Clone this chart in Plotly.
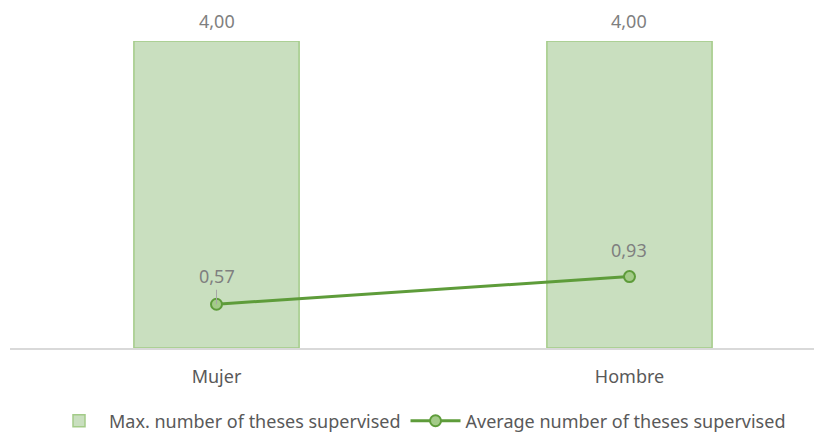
import plotly.graph_objects as go

categories = ["Mujer", "Hombre"]
max_theses = [4.00, 4.00]
avg_theses = [0.57, 0.93]

BAR_FILL = "#c9dfbf"
BAR_LINE = "#a3cb88"
LINE_GREEN = "#5e9c3a"
TEXT_GREY = "#7f7f7f"
LABEL_GREY = "#595959"
FONT = "Noto Sans"


def fmt(v):
    return f"{v:.2f}".replace(".", ",")


fig = go.Figure()

fig.add_trace(go.Bar(
    x=categories,
    y=max_theses,
    name="Max. number of theses supervised",
    width=0.4,
    marker=dict(color=BAR_FILL, line=dict(color=BAR_LINE, width=1.5)),
    hoverinfo="skip",
))

fig.add_trace(go.Scatter(
    x=categories,
    y=avg_theses,
    name="Average number of theses supervised",
    mode="lines+markers",
    line=dict(color=LINE_GREEN, width=3),
    marker=dict(size=11, color=BAR_LINE, line=dict(color=LINE_GREEN, width=2)),
    cliponaxis=False,
))

# value labels above the bars
for cat, val in zip(categories, max_theses):
    fig.add_annotation(
        x=cat, y=val, text=fmt(val),
        showarrow=False, yanchor="middle", yshift=20, borderpad=0,
        font=dict(color=TEXT_GREY, size=18, family=FONT),
    )

# value labels above the line points (first has a small leader line)
for i, (cat, val) in enumerate(zip(categories, avg_theses)):
    fig.add_annotation(
        x=cat, y=val, text=fmt(val),
        showarrow=(i == 0), arrowhead=0, arrowwidth=1, arrowcolor="#a6a6a6",
        ax=0, ay=-28, standoff=0,
        yanchor="bottom" if i else None, yshift=13 if i else 0,
        font=dict(color=TEXT_GREY, size=18, family=FONT),
    )

fig.update_layout(
    width=822,
    height=432,
    margin=dict(l=2, r=0, t=33, b=92),
    plot_bgcolor="white",
    paper_bgcolor="white",
    font=dict(family=FONT, color=LABEL_GREY, size=18),
    showlegend=True,
    legend=dict(
        orientation="h",
        x=0.5, xanchor="center",
        y=-0.238, yanchor="middle",
        font=dict(color=LABEL_GREY, size=18, family=FONT),
        itemwidth=50,
        tracegroupgap=0,
    ),
)

fig.update_xaxes(
    range=[-0.5, 1.4855],
    showline=True, linecolor="#d9d9d9", linewidth=2,
    showgrid=False, ticks="outside", ticklen=11, tickcolor="rgba(0,0,0,0)",
    tickfont=dict(color=LABEL_GREY, size=18, family=FONT),
)
fig.update_yaxes(
    range=[0, 4], visible=False, showgrid=False, zeroline=False,
)

fig.write_html("out.html")
